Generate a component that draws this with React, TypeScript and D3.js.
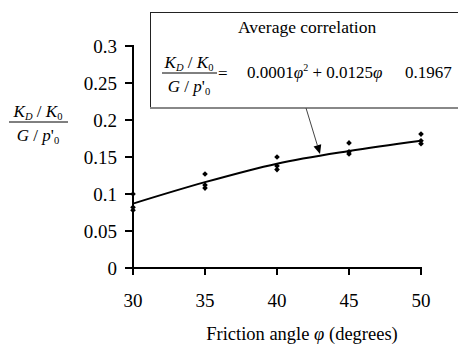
import React from "react";
import * as d3 from "d3";

const angles = [30, 35, 40, 45, 50];
const curveValues = [0.087, 0.116, 0.141, 0.158, 0.172];
const pointsA = [0.1, 0.127, 0.15, 0.169, 0.181];
const pointsB = [0.082, 0.112, 0.138, 0.157, 0.172];
const pointsC = [0.078, 0.108, 0.133, 0.154, 0.168];
const yTicks = [0, 0.05, 0.1, 0.15, 0.2, 0.25, 0.3];
const yTickLabels = ["0", "0.05", "0.1", "0.15", "0.2", "0.25", "0.3"];
const xTicks = [30, 35, 40, 45, 50];

const FF = "Liberation Serif";

function Fraction({ cx, lineY, x1, x2, size }: { cx: number; lineY: number; x1: number; x2: number; size: number }) {
  const sub = size * 0.62;
  return (
    <>
      <text x={cx} y={lineY - 5} textAnchor="middle" fontSize={size} fontFamily={FF}>
        <tspan fontStyle="italic">K</tspan>
        <tspan fontStyle="italic" fontSize={sub} dy={3}>D</tspan>
        <tspan dy={-3}> / </tspan>
        <tspan fontStyle="italic">K</tspan>
        <tspan fontSize={sub} dy={3}>0</tspan>
      </text>
      <line x1={x1} x2={x2} y1={lineY} y2={lineY} stroke="#000" strokeWidth={1} />
      <text x={cx} y={lineY + 19} textAnchor="middle" fontSize={size} fontFamily={FF}>
        <tspan fontStyle="italic">G</tspan>
        <tspan> / </tspan>
        <tspan fontStyle="italic">p</tspan>
        <tspan>'</tspan>
        <tspan fontSize={sub} dy={3}>0</tspan>
      </text>
    </>
  );
}

export default function App() {
  const x = d3.scaleLinear().domain([30, 50]).range([133, 421]);
  const y = d3.scaleLinear().domain([0, 0.3]).range([268, 46]);
  const line = d3.line<number>().x((_, i) => x(angles[i])).y((d) => y(d)).curve(d3.curveMonotoneX);
  const diamond = d3.symbol().type(d3.symbolSquare).size(16)();
  const allPoints = [pointsA, pointsB, pointsC];

  const arrowX1 = 306, arrowY1 = 108, arrowX2 = 320, arrowY2 = 154;
  const ang = Math.atan2(arrowY2 - arrowY1, arrowX2 - arrowX1);
  const ah = 9, aw = 4;
  const bx = arrowX2 - ah * Math.cos(ang), by = arrowY2 - ah * Math.sin(ang);
  const head = `M${arrowX2},${arrowY2} L${bx + aw * Math.sin(ang)},${by - aw * Math.cos(ang)} L${bx - aw * Math.sin(ang)},${by + aw * Math.cos(ang)} Z`;

  return (
    <svg width={458} height={345} style={{ position: "absolute", left: 0, top: 0 }}>
      <rect width={458} height={345} fill="#fff" />
      <line x1={x(30)} x2={x(30)} y1={y(0.3) - 1} y2={y(0) + 1} stroke="#000" strokeWidth={2} />
      {yTicks.map((t, i) => (
        <line key={"ytl" + i} x1={x(30) - 8} x2={x(30)} y1={y(t)} y2={y(t)} stroke="#000" strokeWidth={2} />
      ))}
      {yTicks.map((t, i) => (
        <text key={"yt" + i} x={117} y={y(t) + 7} textAnchor="end" fontSize={19} fontFamily={FF}>
          {yTickLabels[i]}
        </text>
      ))}
      <line x1={x(30) - 1} x2={x(50) + 1} y1={y(0)} y2={y(0)} stroke="#000" strokeWidth={2} />
      {xTicks.map((t) => (
        <line key={"xtl" + t} x1={x(t)} x2={x(t)} y1={y(0)} y2={y(0) + 7} stroke="#000" strokeWidth={2} />
      ))}
      {xTicks.map((t) => (
        <text key={"xt" + t} x={x(t)} y={307} textAnchor="middle" fontSize={19} fontFamily={FF}>
          {t}
        </text>
      ))}
      <text x={302} y={340} textAnchor="middle" fontSize={18.5} fontFamily={FF}>
        Friction angle <tspan fontStyle="italic">φ</tspan> (degrees)
      </text>

      <Fraction cx={38} lineY={122} x1={9} x2={68} size={17} />

      <path d={line(curveValues) || ""} fill="none" stroke="#000" strokeWidth={2} />
      {allPoints.map((arr, j) =>
        arr.map((v, i) => (
          <path key={`p${j}-${i}`} d={diamond || ""} transform={`translate(${x(angles[i])},${y(v)}) rotate(45)`} fill="#000" />
        ))
      )}

      <rect x={150.5} y={12.5} width={330} height={95} fill="#fff" stroke="#222" strokeWidth={1} />
      <line x1={150} x2={458} y1={108} y2={108} stroke="#888" strokeWidth={2} />
      <text x={238} y={33} fontSize={17.5} fontFamily={FF}>Average correlation</text>
      <Fraction cx={189} lineY={73} x1={162} x2={217} size={17} />
      <text x={218} y={79} fontSize={17} fontFamily={FF}>=</text>
      <text x={247} y={78} fontSize={17} fontFamily={FF}>
        0.0001<tspan fontStyle="italic">φ</tspan>
        <tspan fontSize={10} dy={-7}>2</tspan>
        <tspan dy={7}> + 0.0125</tspan>
        <tspan fontStyle="italic">φ</tspan>
      </text>
      <text x={405} y={78} fontSize={17} fontFamily={FF}>0.1967</text>

      <line x1={arrowX1} y1={arrowY1} x2={bx} y2={by} stroke="#444" strokeWidth={1} />
      <path d={head} fill="#000" />
    </svg>
  );
}
